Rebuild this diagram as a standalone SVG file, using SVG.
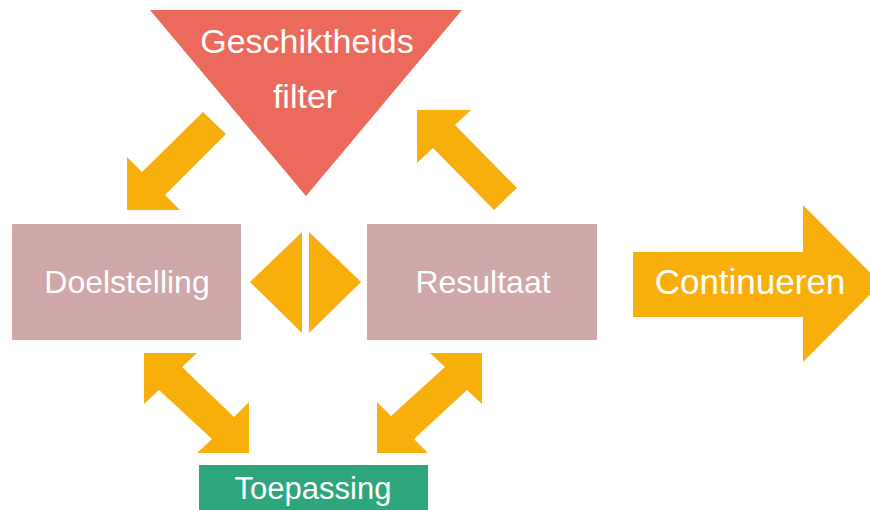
<svg xmlns="http://www.w3.org/2000/svg" width="870" height="510" viewBox="0 0 870 510">
<style>
.lbl{font-family:"Liberation Sans",Arial,sans-serif;fill:#ffffff;text-anchor:middle}
.box{fill:#D1A8A9}
.arr{fill:#F8AF0B}
</style>
<rect x="0" y="0" width="870" height="510" fill="#ffffff"/>
<g id="filter">
<polygon points="150,10 462,10 306,196" fill="#EC6A5C"/>
<text class="lbl" x="307" y="53" font-size="34">Geschiktheids</text>
<text class="lbl" x="305" y="108" font-size="34">filter</text>
</g>
<g id="doelstelling">
<rect class="box" x="12" y="224" width="229" height="116"/>
<text class="lbl" x="127" y="293" font-size="32">Doelstelling</text>
</g>
<g id="resultaat">
<rect class="box" x="367" y="224" width="230" height="116"/>
<text class="lbl" x="483" y="293" font-size="32">Resultaat</text>
</g>
<g id="toepassing">
<rect x="199" y="465" width="229" height="50" fill="#2EA67B"/>
<text class="lbl" x="313" y="499" font-size="31">Toepassing</text>
</g>
<g id="continueren">
<polygon class="arr" points="633,252 803,252 803,205 881,283.5 803,362 803,317 633,317"/>
<text class="lbl" x="750" y="294" font-size="35">Continueren</text>
</g>
<g id="connectors">
<polygon class="arr" points="127,210 127,157 142,172 203,112 226,134 165,195 180,210"/>
<polygon class="arr" points="417,110 471,110 455,125 517,188 494,210 433,148 417,163"/>
<polygon class="arr" points="250,282 302,232 302,333"/>
<polygon class="arr" points="309,232 361,282 309,333"/>
<polygon class="arr" points="144,353 197,353 182,367 234,417 249,402 249,453 197,453 212,439 159,390 144,404"/>
<polygon class="arr" points="482,353 482,404 467,390 414,439 428,453 377,453 377,402 391,416 445,367 430,353"/>
</g>
</svg>
